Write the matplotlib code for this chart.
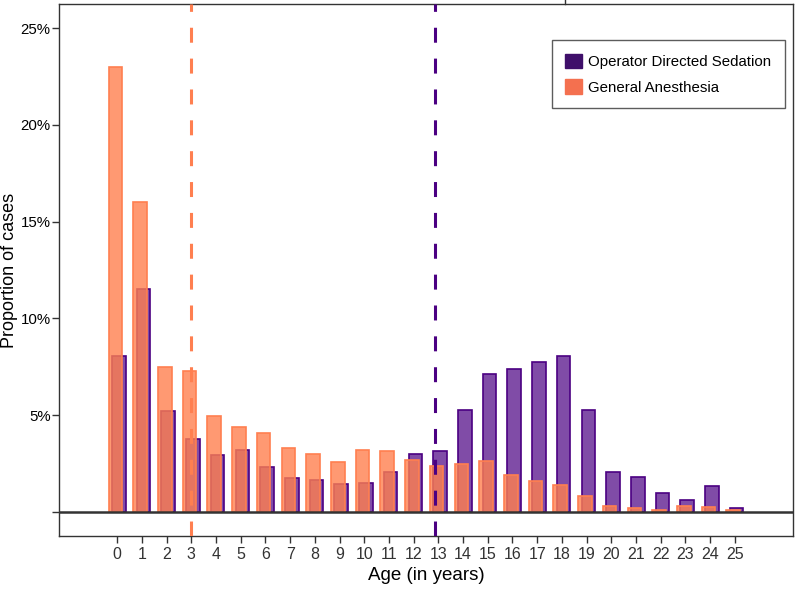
import matplotlib
matplotlib.use("Agg")
import matplotlib.pyplot as plt
from matplotlib.patches import Patch
from matplotlib.lines import Line2D
import numpy as np

plt.rcParams['font.family'] = ['Liberation Sans', 'DejaVu Sans']

ages = list(range(26))
ga_pct = [23.0, 16.0, 7.5, 7.28, 4.97, 4.41, 4.06, 3.32, 3.0, 2.57, 3.2, 3.13, 2.70,
          2.39, 2.5, 2.62, 1.93, 1.62, 1.39, 0.81, 0.33, 0.21, 0.12, 0.29, 0.24, 0.12]
ods_pct = [8.06, 11.53, 5.22, 3.77, 2.93, 3.19, 2.34, 1.74, 1.67, 1.43, 1.50, 2.08, 3.0,
           3.17, 5.29, 7.13, 7.39, 7.73, 8.06, 5.29, 2.07, 1.82, 0.98, 0.64, 1.33, 0.22]
ga_median = 3.0
ods_median = 12.87
series_names = ["Operator Directed Sedation", "General Anesthesia"]
ytick_vals = [0, 5, 10, 15, 20, 25]
ytick_labels = ["", "5%", "10%", "15%", "20%", "25%"]

fig = plt.figure(figsize=(8.0, 5.89), dpi=100)
ax = fig.add_axes([59/800, 1-536/589, (793-59)/800, (536-4)/589])

x = np.array(ages)
ax.bar(x + 0.07, ods_pct, width=0.55, color=(0.29, 0.0, 0.51, 0.7),
       edgecolor="#4B0082", linewidth=1.2, zorder=2)
ax.bar(x - 0.07, ga_pct, width=0.55, color=(1.0, 0.5, 0.31, 0.8),
       edgecolor="#FF7F50", linewidth=1.2, zorder=3)

ax.axhline(0, color="#333333", linewidth=1.8, zorder=4)
ax.axvline(ga_median, color="#FF7F50", linewidth=2.2, dashes=(4.9, 5.2), zorder=5)
ax.axvline(ods_median, color="#4B0082", linewidth=2.2, dashes=(4.9, 5.2), zorder=5)

ax.set_xlim(-2.35, 27.35)
ax.set_ylim(-1.24, 26.24)
ax.set_xticks(ages)
ax.set_xticklabels([str(a) for a in ages], fontsize=11.5, color="#333333")
ax.set_yticks(ytick_vals)
ax.set_yticklabels(ytick_labels, fontsize=10.8, color="black")
ax.tick_params(axis='both', direction='out', length=5, width=1, color="#333333")
ax.tick_params(axis='y', pad=1)
ax.tick_params(axis='x', pad=3)

for s in ax.spines.values():
    s.set_color("#333333")
    s.set_linewidth(1.0)

ax.set_xlabel("Age (in years)", fontsize=13.5, va='center')
ax.xaxis.set_label_coords(0.5, -(575-536)/532)
ax.set_ylabel("Proportion of cases", fontsize=13, va='center')
ax.yaxis.set_label_coords(-(59-10)/734, 0.5)

handles = [Patch(facecolor="#3F0F6A", edgecolor="#3F0F6A"),
           Patch(facecolor="#F4704F", edgecolor="#F4704F")]
leg = ax.legend(handles, series_names, loc="upper right",
                bbox_to_anchor=((785-59)/734, (536-40)/532), borderaxespad=0,
                fontsize=10.8, frameon=True, fancybox=False, borderpad=0.9,
                handlelength=1.1, handleheight=1.1, handletextpad=0.45,
                labelspacing=0.7)
leg.get_frame().set_edgecolor("#333333")
leg.get_frame().set_linewidth(1.0)

fig.add_artist(Line2D([565/800, 565/800], [1-4/589, 1.0], color="#333333", linewidth=1.0))

fig.savefig("out.png", dpi=100)
